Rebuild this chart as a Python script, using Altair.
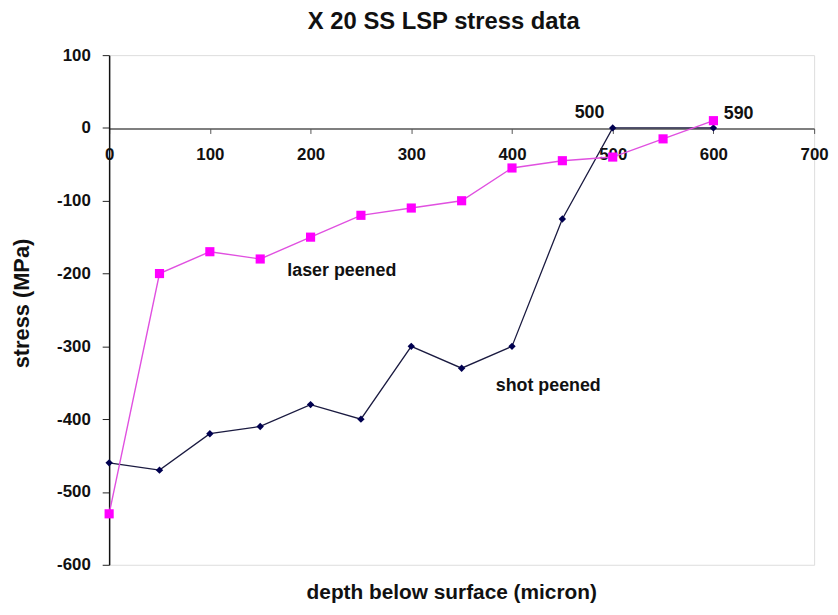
import altair as alt
import pandas as pd

depth_laser = [0, 50, 100, 150, 200, 250, 300, 350, 400, 450, 500, 550, 600]
stress_laser = [-530, -200, -170, -180, -150, -120, -110, -100, -55, -45, -40, -15, 10]

depth_shot = [0, 50, 100, 150, 200, 250, 300, 350, 400, 450, 500, 600]
stress_shot = [-460, -470, -420, -410, -380, -400, -300, -330, -300, -125, 0, 0]

note_text = ["500", "590", "laser peened", "shot peened"]
note_x = [477, 625, 231, 436]
note_y = [20, 19, -197, -355]

laser = pd.DataFrame({"depth": depth_laser, "stress": stress_laser})
shot = pd.DataFrame({"depth": depth_shot, "stress": stress_shot})
notes = pd.DataFrame({"text": note_text, "depth": note_x, "stress": note_y})

FONT = "Liberation Sans, Arial, sans-serif"

xs = alt.X(
    "depth:Q",
    scale=alt.Scale(domain=[0, 700], nice=False),
    axis=alt.Axis(
        values=[0, 100, 200, 300, 400, 500, 600, 700],
        orient="bottom",
        offset=-440,
        title="depth below surface (micron)",
        titleX=345,
        titleY=468,
        titleAlign="center",
        titleBaseline="middle",
        titleFontSize=21,
        titleFont=FONT,
        titleFontWeight="bold",
        titleColor="#111",
        labelFont=FONT,
        labelFontSize=17,
        labelFontWeight="bold",
        labelColor="#111",
        labelPadding=13,
        labelExpr="'' + datum.value",
        tickSize=5,
        tickColor="#555",
        domainColor="#555",
        domainWidth=1.5,
        grid=False,
        labelFlush=False,
        labelOverlap=False,
    ),
)
ys = alt.Y(
    "stress:Q",
    scale=alt.Scale(domain=[-600, 100], nice=False),
    axis=alt.Axis(
        values=[-600, -500, -400, -300, -200, -100, 0, 100],
        title="stress (MPa)",
        titleX=-88,
        titleY=250,
        titleAlign="center",
        titleBaseline="middle",
        titleAngle=270,
        titleFontSize=22,
        titleFont=FONT,
        titleFontWeight="bold",
        titleColor="#111",
        labelFont=FONT,
        labelFontSize=17,
        labelFontWeight="bold",
        labelColor="#111",
        labelPadding=12,
        labelExpr="'' + datum.value",
        tickSize=7,
        tickColor="#222",
        domainColor="#111",
        domainWidth=1.5,
        grid=False,
        labelFlush=False,
        labelOverlap=False,
    ),
)

laser_line = alt.Chart(laser).mark_line(color="#e050e0", strokeWidth=1.4).encode(x=xs, y=ys)
laser_pts = alt.Chart(laser).mark_point(
    shape="square", filled=True, size=85, color="#ff00ff", opacity=1
).encode(x=xs, y=ys)
shot_line = alt.Chart(shot).mark_line(color="#1a1a40", strokeWidth=1.3).encode(x=xs, y=ys)
shot_pts = alt.Chart(shot).mark_point(
    shape="diamond", filled=True, size=55, color="#000050", opacity=1
).encode(x=xs, y=ys)
note_marks = alt.Chart(notes).mark_text(
    font=FONT, fontSize=18, fontWeight="bold", color="#111"
).encode(x=xs, y=ys, text="text:N")

chart = (
    alt.layer(shot_line, laser_line, shot_pts, laser_pts, note_marks)
    .properties(
        width=711,
        height=514,
        title=alt.TitleParams(
            "X 20 SS LSP stress data",
            font=FONT,
            fontSize=24,
            fontWeight="bold",
            color="#111",
            offset=12,
            dx=-18,
        ),
        autosize=alt.AutoSizeParams(type="none"),
        padding={"left": 102, "top": 45, "right": 16, "bottom": 36},
    )
    .configure_view(stroke="#999", strokeWidth=1.2)
    .configure(background="white")
)

chart.save("out.html", embed_options={"renderer": "svg", "actions": False})
